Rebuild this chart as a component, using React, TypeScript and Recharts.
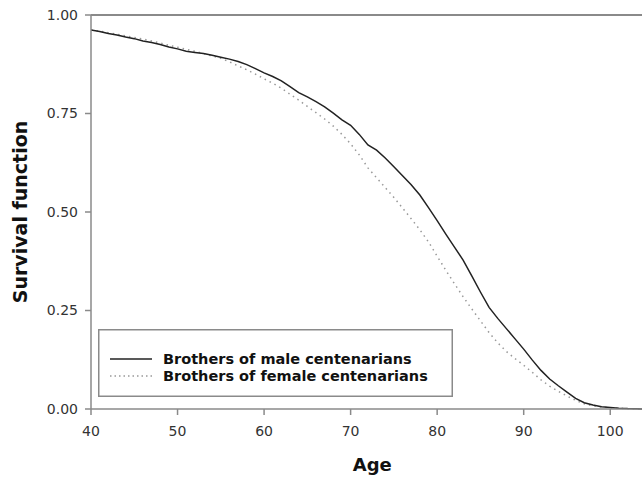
import React from 'react';
import { LineChart, Line, XAxis, YAxis, ReferenceLine, Legend } from 'recharts';

// survival curves, one value per year of age
const ages = [
  40, 41, 42, 43, 44, 45, 46, 47, 48, 49, 50, 51, 52, 53, 54, 55, 56, 57, 58, 59,
  60, 61, 62, 63, 64, 65, 66, 67, 68, 69, 70, 71, 72, 73, 74, 75, 76, 77, 78, 79,
  80, 81, 82, 83, 84, 85, 86, 87, 88, 89, 90, 91, 92, 93, 94, 95, 96, 97, 98, 99,
  100, 101, 102, 103, 104, 105,
];

const maleBrothers = [
  0.962, 0.958, 0.953, 0.949, 0.944, 0.94, 0.934, 0.93, 0.925, 0.919,
  0.914, 0.908, 0.905, 0.902, 0.898, 0.893, 0.888, 0.882, 0.874, 0.864,
  0.853, 0.844, 0.833, 0.818, 0.803, 0.792, 0.78, 0.767, 0.751, 0.734,
  0.72, 0.697, 0.67, 0.657, 0.637, 0.615, 0.592, 0.569, 0.543, 0.511,
  0.478, 0.444, 0.411, 0.378, 0.338, 0.297, 0.258, 0.23, 0.204, 0.178,
  0.152, 0.124, 0.098, 0.076, 0.059, 0.043, 0.027, 0.016, 0.01, 0.006,
  0.004, 0.002, 0.001, 0.0005, 0, 0,
];

const femaleBrothers = [
  0.962, 0.959, 0.955, 0.951, 0.947, 0.943, 0.939, 0.934, 0.929, 0.923,
  0.918, 0.913, 0.908, 0.902, 0.896, 0.89, 0.881, 0.871, 0.861, 0.85,
  0.838, 0.827, 0.814, 0.799, 0.784, 0.768, 0.752, 0.736, 0.718, 0.697,
  0.673, 0.645, 0.612, 0.587, 0.562, 0.537, 0.51, 0.483, 0.455, 0.424,
  0.388, 0.352, 0.318, 0.285, 0.254, 0.224, 0.194, 0.168, 0.146, 0.128,
  0.111, 0.093, 0.074, 0.058, 0.045, 0.033, 0.022, 0.013, 0.008, 0.005,
  0.003, 0.002, 0.001, 0.0005, 0, 0,
];

const xTicks = [40, 50, 60, 70, 80, 90, 100];
const yTicks = [0, 0.25, 0.5, 0.75, 1];

const seriesNames = ['Brothers of male centenarians', 'Brothers of female centenarians'];

const data = ages.map((age, i) => ({
  age,
  male: maleBrothers[i],
  female: femaleBrothers[i],
}));

const FONT = '"DejaVu Sans", Arial, sans-serif';
const AXIS = '#8a8a8a';

const renderLegend = () => (
  <svg width={355} height={68}>
    <rect x={0.75} y={0.75} width={353.5} height={66.5} fill="#fff" stroke={AXIS} strokeWidth={1.5} />
    <line x1={12} x2={54} y1={30} y2={30} stroke="#222" strokeWidth={1.5} />
    <line x1={12} x2={54} y1={47} y2={47} stroke="#999" strokeWidth={1.5} strokeDasharray="1.5 3" />
    <text x={65} y={30} dominantBaseline="central" fontFamily={FONT} fontSize={14.5} fontWeight="bold" fill="#111">
      {seriesNames[0]}
    </text>
    <text x={65} y={47} dominantBaseline="central" fontFamily={FONT} fontSize={14.5} fontWeight="bold" fill="#111">
      {seriesNames[1]}
    </text>
  </svg>
);

export default function App() {
  return (
    <div
      style={{
        position: 'absolute',
        left: 0,
        top: 0,
        width: 642,
        height: 478,
        overflow: 'hidden',
        background: '#fff',
        fontFamily: FONT,
      }}
    >
      {/* the original plot is cropped on the right, so the chart is a bit wider than the window */}
      <LineChart width={660} height={478} data={data} margin={{ top: 15, right: 6.5, left: 0, bottom: 0 }}>
        <XAxis
          type="number"
          dataKey="age"
          domain={[40, 105]}
          ticks={xTicks}
          allowDataOverflow
          height={69}
          stroke={AXIS}
          strokeWidth={1.5}
          tickSize={6}
          tickMargin={11}
          tick={{ fontSize: 14, fill: '#333', fontFamily: FONT }}
          label={{
            content: (props: any) => {
              const vb = props.viewBox;
              return (
                <text
                  x={vb.x + vb.width / 2}
                  y={471}
                  textAnchor="middle"
                  fontFamily={FONT}
                  fontSize={18}
                  fontWeight="bold"
                  fill="#111"
                >
                  Age
                </text>
              );
            },
          }}
        />
        <YAxis
          type="number"
          domain={[0, 1]}
          ticks={yTicks}
          width={91}
          stroke={AXIS}
          strokeWidth={1.5}
          tickSize={6}
          tickMargin={7}
          tickFormatter={(v: number) => v.toFixed(2)}
          tick={{ fontSize: 14, fill: '#333', fontFamily: FONT }}
          label={{
            content: (props: any) => {
              const vb = props.viewBox;
              const cy = vb.y + vb.height / 2;
              return (
                <text
                  x={27}
                  y={cy}
                  transform={`rotate(-90 27 ${cy})`}
                  textAnchor="middle"
                  fontFamily={FONT}
                  fontSize={19}
                  fontWeight="bold"
                  fill="#111"
                >
                  Survival function
                </text>
              );
            },
          }}
        />
        <ReferenceLine y={1} stroke={AXIS} strokeWidth={2} />
        <Line
          type="linear"
          dataKey="female"
          name={seriesNames[1]}
          stroke="#999"
          strokeWidth={1.5}
          strokeDasharray="1.5 4"
          dot={false}
          isAnimationActive={false}
        />
        <Line
          type="linear"
          dataKey="male"
          name={seriesNames[0]}
          stroke="#222"
          strokeWidth={1.5}
          dot={false}
          isAnimationActive={false}
        />
        <Legend
          layout="horizontal"
          verticalAlign="middle"
          align="center"
          content={renderLegend}
          wrapperStyle={{ position: 'absolute', left: 98, top: 329, width: 355, height: 68 }}
        />
      </LineChart>
    </div>
  );
}
